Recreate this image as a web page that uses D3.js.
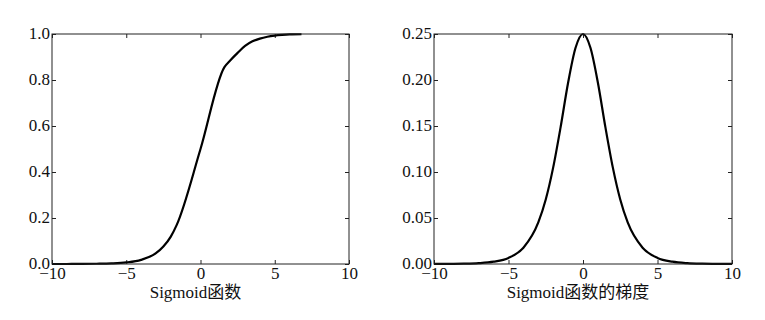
<!DOCTYPE html>
<html>
<head>
<meta charset="utf-8">
<script src="https://cdn.jsdelivr.net/npm/d3@7"></script>
<style>
  body { margin: 0; background: #fff; }
</style>
</head>
<body>
<div id="chart"></div>
<script>
// sigmoid curve
var sigX = [-10, -9, -8, -7, -6, -5, -4, -3, -2.5, -2, -1.6, 0, 1.6, 2, 2.5, 3, 3.5, 4, 4.5, 5, 5.5, 6, 6.8];
var sigY = [0.0, 0.0001, 0.0003, 0.001, 0.0025, 0.0067, 0.018, 0.047, 0.076, 0.119, 0.17, 0.5, 0.855, 0.885, 0.918, 0.948, 0.968, 0.98, 0.988, 0.993, 0.996, 0.998, 0.999];

// gradient curve
var gradX = [-10, -9, -8, -7, -6, -5, -4, -3, -2.5, -2, -1.5, -1, -0.5, 0, 0.5, 1, 1.5, 2, 2.5, 3, 4, 5, 6, 7, 8, 9, 10];
var gradY = [0.00005, 0.0001, 0.0003, 0.0009, 0.0025, 0.0066, 0.0177, 0.0452, 0.0701, 0.105, 0.149, 0.197, 0.235, 0.25, 0.235, 0.197, 0.149, 0.105, 0.0701, 0.0452, 0.0177, 0.0066, 0.0025, 0.0009, 0.0003, 0.0001, 0.00005];

var xTicks = [-10, -5, 0, 5, 10];
var sigTicks = [0.0, 0.2, 0.4, 0.6, 0.8, 1.0];
var gradTicks = [0.00, 0.05, 0.10, 0.15, 0.20, 0.25];

var serif = "'Liberation Serif', 'Times New Roman', serif";

var svg = d3.select("#chart").append("svg").attr("width", 765).attr("height", 320);

function styleAxis(g) {
  g.select(".domain").remove();
  g.attr("font-family", serif).attr("font-size", 17);
  g.selectAll("text").attr("fill", "#111");
  g.selectAll("line").attr("stroke", "#222");
}

function panel(left, right, xs, ys, yDomain, yTicks, yFmt, label) {
  var top = 34, bottom = 264;
  var x = d3.scaleLinear().domain([-10, 10]).range([left, right]);
  var y = d3.scaleLinear().domain(yDomain).range([bottom, top]);

  svg.append("g")
    .attr("transform", "translate(0," + bottom + ")")
    .call(d3.axisBottom(x).tickValues(xTicks).tickSizeInner(-4).tickSizeOuter(0).tickPadding(3))
    .call(styleAxis);
  svg.append("g")
    .attr("transform", "translate(0," + top + ")")
    .call(d3.axisTop(x).tickValues(xTicks).tickSizeInner(-4).tickSizeOuter(0).tickFormat(""))
    .call(styleAxis);
  svg.append("g")
    .attr("transform", "translate(" + left + ",0)")
    .call(d3.axisLeft(y).tickValues(yTicks).tickFormat(d3.format(yFmt)).tickSizeInner(-4).tickSizeOuter(0).tickPadding(2))
    .call(styleAxis)
    .call(function(g) { g.selectAll("text").attr("dy", "0.28em"); });
  svg.append("g")
    .attr("transform", "translate(" + right + ",0)")
    .call(d3.axisRight(y).tickValues(yTicks).tickSizeInner(-4).tickSizeOuter(0).tickFormat(""))
    .call(styleAxis);

  var line = d3.line()
    .x(function(d, i) { return x(xs[i]); })
    .y(function(d) { return y(d); })
    .curve(d3.curveMonotoneX);

  svg.append("path").datum(ys)
    .attr("d", line)
    .attr("fill", "none")
    .attr("stroke", "#000")
    .attr("stroke-width", 2.2);

  svg.append("rect")
    .attr("x", left).attr("y", top)
    .attr("width", right - left).attr("height", bottom - top)
    .attr("fill", "none").attr("stroke", "#222").attr("stroke-width", 1);

  svg.append("text")
    .attr("x", (left + right) / 2 - 5).attr("y", 298)
    .attr("text-anchor", "middle")
    .attr("font-family", serif + ", 'Noto Sans CJK SC'")
    .attr("font-size", 17)
    .attr("fill", "#111")
    .text(label);
}

panel(52, 349, sigX, sigY, [0, 1], sigTicks, ".1f", "Sigmoid函数");
panel(434, 732, gradX, gradY, [0, 0.25], gradTicks, ".2f", "Sigmoid函数的梯度");
</script>
</body>
</html>
